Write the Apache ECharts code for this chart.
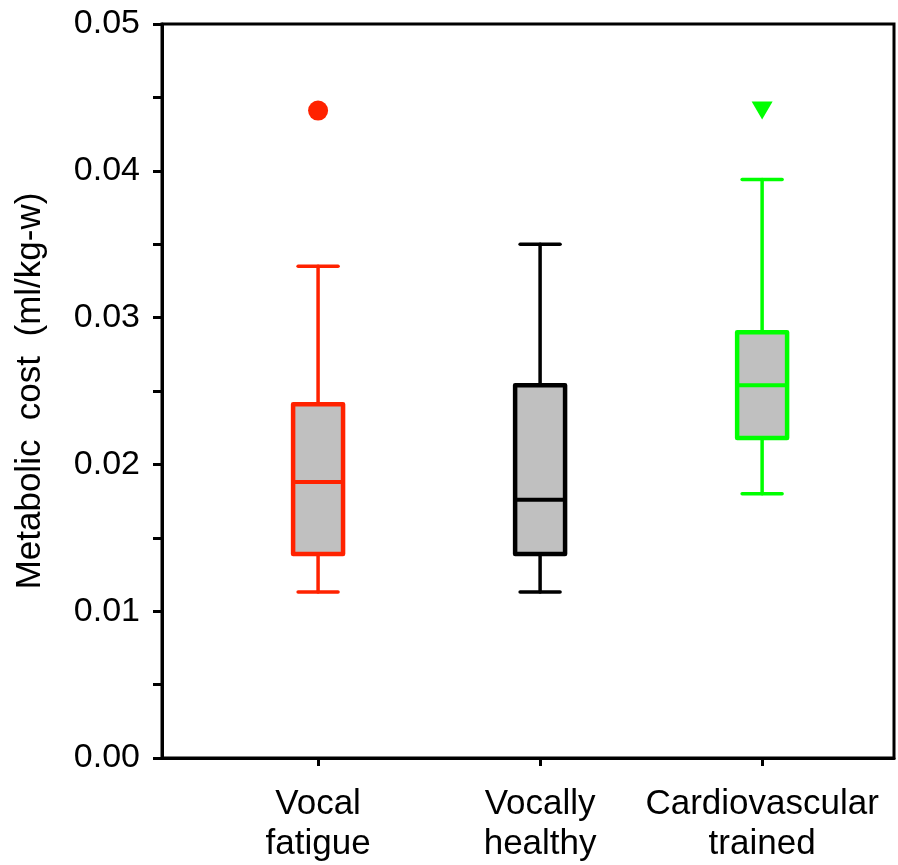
<!DOCTYPE html>
<html>
<head>
<meta charset="utf-8">
<script src="https://cdn.jsdelivr.net/npm/echarts@6/dist/echarts.min.js"></script>
<style>
  html, body { margin: 0; padding: 0; background: #fff; }
  #chart { width: 898px; height: 865px; }
</style>
</head>
<body>
<div id="chart"></div>
<script>
// groups, placed at x = 1, 2, 3
const categories = ['Vocal\nfatigue', 'Vocally\nhealthy', 'Cardiovascular\ntrained']
const positions = [1, 2, 3]
// [low whisker, Q1, median, Q3, high whisker]
const boxStats = [
  [0.0113, 0.0139, 0.0188, 0.0241, 0.0335],
  [0.0113, 0.0139, 0.0176, 0.0254, 0.0350],
  [0.0180, 0.0218, 0.0254, 0.0290, 0.0394]
]
const outlierFatigue = [[1, 0.0441]]
const outlierTrained = [[3, 0.0441]]
const yTicks = [0, 0.01, 0.02, 0.03, 0.04, 0.05]

const COLORS = ['#ff2200', '#000000', '#00ff00']
const FILL = '#c0c0c0'
const FONT = 'Liberation Sans, Arial, sans-serif'

const boxData = boxStats.map((s, i) => [positions[i], ...s])

function renderBox(params, api) {
  const x = api.value(0)
  const low = api.coord([x, api.value(1)])
  const q1 = api.coord([x, api.value(2)])
  const med = api.coord([x, api.value(3)])
  const q3 = api.coord([x, api.value(4)])
  const high = api.coord([x, api.value(5)])
  const halfBox = api.size([0.225, 0])[0] / 2
  const halfCap = api.size([0.18, 0])[0] / 2
  const color = COLORS[params.dataIndex]
  const line = { stroke: color, lineWidth: 3.5, lineCap: 'round' }
  const cx = low[0]
  return {
    type: 'group',
    children: [
      { type: 'line', shape: { x1: cx, y1: low[1], x2: cx, y2: q1[1] }, style: line },
      { type: 'line', shape: { x1: cx, y1: q3[1], x2: cx, y2: high[1] }, style: line },
      { type: 'line', shape: { x1: cx - halfCap, y1: low[1], x2: cx + halfCap, y2: low[1] }, style: line },
      { type: 'line', shape: { x1: cx - halfCap, y1: high[1], x2: cx + halfCap, y2: high[1] }, style: line },
      {
        type: 'rect',
        shape: { x: cx - halfBox, y: q3[1], width: halfBox * 2, height: q1[1] - q3[1] },
        style: { fill: FILL, stroke: color, lineWidth: 4.5, lineJoin: 'round' }
      },
      { type: 'line', shape: { x1: cx - halfBox, y1: med[1], x2: cx + halfBox, y2: med[1] }, style: { stroke: color, lineWidth: 4 } }
    ]
  }
}

const chart = echarts.init(document.getElementById('chart'), null, { renderer: 'canvas' })

chart.setOption({
  animation: false,
  backgroundColor: '#fff',
  textStyle: { fontFamily: FONT },
  grid: {
    left: 162, top: 24, right: 4, bottom: 107,
    show: true, borderColor: '#000', borderWidth: 3, backgroundColor: 'transparent'
  },
  xAxis: {
    type: 'value',
    min: 0.297,
    max: 3.594,
    splitLine: { show: false },
    axisLine: { show: true, lineStyle: { color: '#000', width: 3 } },
    axisTick: { show: true, customValues: positions, length: 8, lineStyle: { color: '#000', width: 3 } },
    axisLabel: {
      customValues: positions,
      formatter: v => categories[positions.indexOf(Math.round(v))] || '',
      color: '#000', fontSize: 35, lineHeight: 40, margin: 26, fontFamily: FONT
    }
  },
  yAxis: {
    type: 'value',
    min: 0,
    max: 0.05,
    interval: 0.01,
    name: 'Metabolic  cost  (ml/kg-w)',
    nameLocation: 'middle',
    nameGap: 114,
    nameTextStyle: { color: '#000', fontSize: 35, fontFamily: FONT },
    splitLine: { show: false },
    axisLine: { show: true, lineStyle: { color: '#000', width: 3 } },
    axisTick: { show: true, length: 9, lineStyle: { color: '#000', width: 3 } },
    minorTick: { show: true, splitNumber: 2, length: 9, lineStyle: { color: '#000', width: 3 } },
    minorSplitLine: { show: false },
    axisLabel: {
      customValues: yTicks,
      formatter: v => v.toFixed(2),
      color: '#000', fontSize: 34, margin: 22, fontFamily: FONT
    }
  },
  series: [
    {
      type: 'custom',
      renderItem: renderBox,
      data: boxData,
      encode: { x: 0, y: [1, 2, 3, 4, 5] },
      z: 3
    },
    {
      type: 'scatter',
      data: outlierFatigue,
      symbol: 'circle',
      symbolSize: 20,
      itemStyle: { color: COLORS[0], opacity: 1 },
      z: 4
    },
    {
      type: 'scatter',
      data: outlierTrained,
      symbol: 'triangle',
      symbolRotate: 180,
      symbolSize: [21, 18],
      itemStyle: { color: COLORS[2], opacity: 1 },
      z: 4
    }
  ]
})
</script>
</body>
</html>
